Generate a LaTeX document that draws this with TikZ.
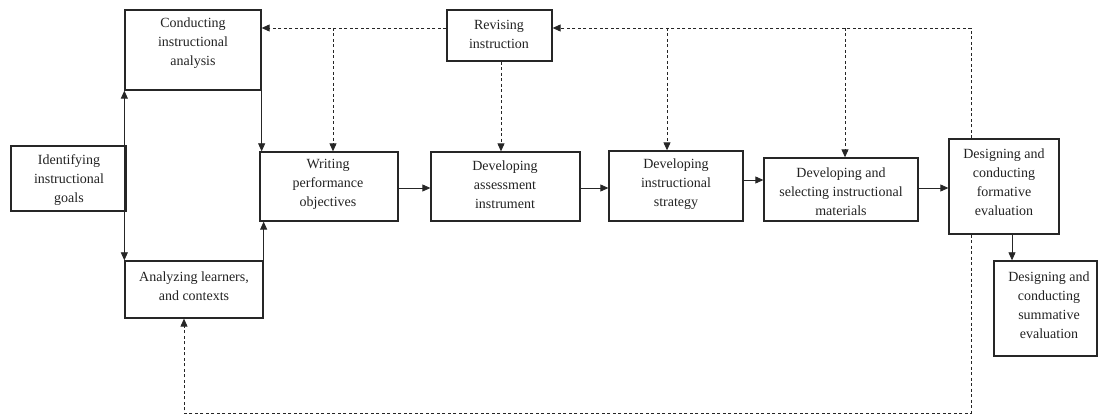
\documentclass[tikz,border=0pt]{standalone}
\usepackage{fontspec}
\setmainfont{Liberation Serif}
\usetikzlibrary{arrows.meta}
\definecolor{ink}{HTML}{262626}
\definecolor{txt}{HTML}{222222}
\begin{document}
\begin{tikzpicture}[x=1pt,y=-1pt,
  box/.style={draw=ink,line width=1.3pt,inner sep=0pt,minimum width=#1},
  lbl/.style={align=center,text=txt,inner sep=0pt,font=\fontsize{14}{19}\selectfont},
  tip/.style={-{Triangle[length=8pt,width=7pt]}},
  link/.style={draw=ink,line width=0.8pt,tip},
  both/.style={draw=ink,line width=0.8pt,{Triangle[length=8pt,width=7pt]}-{Triangle[length=8pt,width=7pt]}},
  back/.style={draw=ink,line width=0.9pt,dash pattern=on 3pt off 2.5pt},
  backarr/.style={back,tip}]
\useasboundingbox (0,0) rectangle (1098,414);

% boxes
\node[box=136,minimum height=80] (cia) at (193,50) {};
\node[box=115,minimum height=65] (goal) at (68.5,178.5) {};
\node[box=138,minimum height=69] (wpo) at (329,186.5) {};
\node[box=138,minimum height=57] (alc) at (194,289.5) {};
\node[box=105,minimum height=51] (rev) at (499.5,35.5) {};
\node[box=149,minimum height=69] (asm) at (505.5,186.5) {};
\node[box=134,minimum height=70] (str) at (676,186) {};
\node[box=154,minimum height=63] (mat) at (841,189.5) {};
\node[box=110,minimum height=95] (frm) at (1004,186.5) {};
\node[box=103,minimum height=95] (sum) at (1045.5,308.5) {};

% texts
\node[lbl] (t-cia) at (193,43) {Conducting\\instructional\\analysis};
\node[lbl] (t-goal) at (69,180) {Identifying\\instructional\\goals};
\node[lbl] (t-wpo) at (328,184.5) {Writing\\performance\\objectives};
\node[lbl] (t-alc) at (194,286) {Analyzing learners,\\and contexts};
\node[lbl] (t-rev) at (499,34) {Revising\\instruction};
\node[lbl] (t-asm) at (505,184.5) {Developing\\assessment\\instrument};
\node[lbl] (t-str) at (676,184.5) {Developing\\instructional\\strategy};
\node[lbl] (t-mat) at (841,192) {Developing and\\selecting instructional\\materials};
\node[lbl] (t-frm) at (1004,182) {Designing and\\conducting\\formative\\evaluation};
\node[lbl] (t-sum) at (1049,305) {Designing and\\conducting\\summative\\evaluation};

% main flow
\draw[both] (cia.south west) -- (alc.north west);
\draw[link] (cia.south east) -- (cia.south east |- wpo.north);
\draw[link] (alc.north east) -- (alc.north east |- wpo.south);
\draw[link] (wpo.east |- 0,188) -- (asm.west |- 0,188);
\draw[link] (asm.east |- 0,188) -- (str.west |- 0,188);
\draw[link] (str.east |- 0,180) -- (mat.west |- 0,180);
\draw[link] (mat.east |- 0,188) -- (frm.west |- 0,188);
\draw[link] (frm.south -| 1012,0) -- (sum.north -| 1012,0);

% revision feedback
\coordinate (topL) at (333,28);
\coordinate (topR) at (971,28);
\coordinate (botR) at (971,413);
\coordinate (botL) at (184,413);
\draw[backarr] (rev.west |- topL) -- (cia.east |- topL);
\draw[backarr] (topL) -- (topL |- wpo.north);
\draw[backarr] (rev.south -| 501,0) -- (asm.north -| 501,0);
\draw[backarr] (frm.north -| topR) -- (topR) -- (rev.east |- topR);
\draw[backarr] (667,28) -- (667,0 |- str.north);
\draw[backarr] (845,28) -- (845,0 |- mat.north);
\draw[backarr] (frm.south -| botR) -- (botR) -- (botL) -- (botL |- alc.south);
\end{tikzpicture}
\end{document}
